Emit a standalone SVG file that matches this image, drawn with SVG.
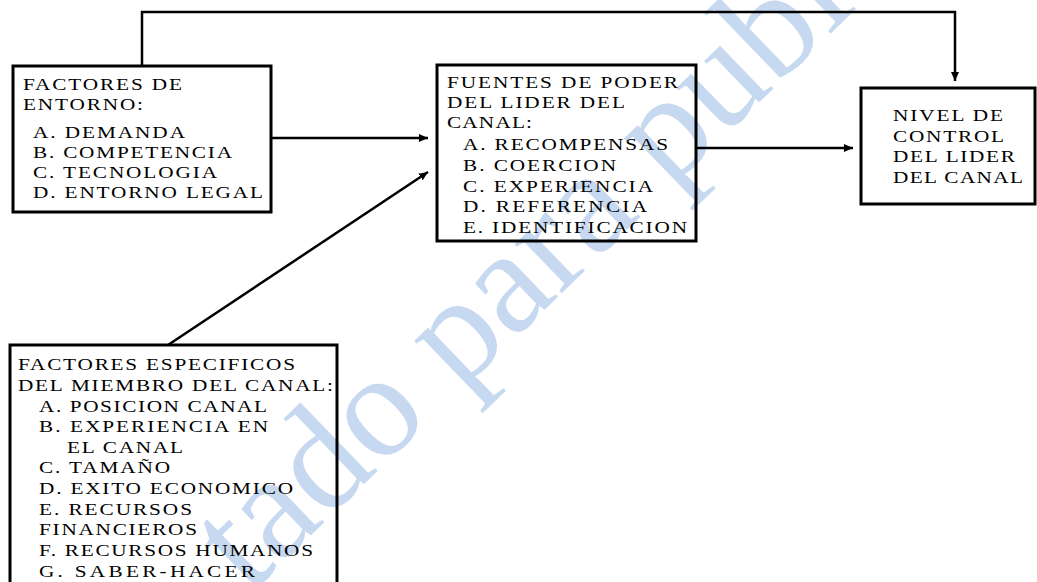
<svg xmlns="http://www.w3.org/2000/svg" width="1037" height="582" viewBox="0 0 1037 582">
<defs>
<marker id="arr" markerUnits="userSpaceOnUse" markerWidth="9" markerHeight="8" refX="9" refY="4" orient="auto">
<path d="M0,0 L9,4 L0,8 z" fill="#000"/>
</marker>
<style>
.box{fill:none;stroke:#000;stroke-width:3}
.con{fill:none;stroke:#000;stroke-width:2.5}
.t{font-family:"Liberation Serif","Times New Roman",serif;font-size:17px;fill:#000}
.wm{font-family:"Liberation Serif","Times New Roman",serif;font-size:148px;fill:#c6d9f1}
</style>
</defs>
<rect x="0" y="0" width="1037" height="582" fill="#fff"/>
<g id="watermark">
<text class="wm" transform="translate(249,595) rotate(-44)">tado para publ</text>
</g>
<g id="connectors">
<polyline class="con" points="142,66 142,12 955,12 955,81" marker-end="url(#arr)"/>
<line class="con" x1="271" y1="138" x2="428" y2="138" marker-end="url(#arr)"/>
<line class="con" x1="168" y1="345" x2="428" y2="172" marker-end="url(#arr)"/>
<line class="con" x1="696" y1="148" x2="853" y2="148" marker-end="url(#arr)"/>
</g>
<g id="node-entorno">
<rect class="box" x="13" y="66" width="258" height="146"/>
<text class="t" transform="translate(23,90) scale(1.25,1)" textLength="127.2" lengthAdjust="spacing">FACTORES DE</text>
<text class="t" transform="translate(23,110) scale(1.25,1)" textLength="96" lengthAdjust="spacing">ENTORNO:</text>
<text class="t" transform="translate(33,138) scale(1.25,1)" textLength="121.6" lengthAdjust="spacing">A. DEMANDA</text>
<text class="t" transform="translate(33,158) scale(1.25,1)" textLength="159.2" lengthAdjust="spacing">B. COMPETENCIA</text>
<text class="t" transform="translate(33,178) scale(1.25,1)" textLength="147.2" lengthAdjust="spacing">C. TECNOLOGIA</text>
<text class="t" transform="translate(33,198) scale(1.25,1)" textLength="184" lengthAdjust="spacing">D. ENTORNO LEGAL</text>
</g>
<g id="node-fuentes">
<rect class="box" x="437" y="65" width="259" height="176"/>
<text class="t" transform="translate(447,88) scale(1.25,1)" textLength="184.8" lengthAdjust="spacing">FUENTES DE PODER</text>
<text class="t" transform="translate(447,108) scale(1.25,1)" textLength="142.4" lengthAdjust="spacing">DEL LIDER DEL</text>
<text class="t" transform="translate(447,128) scale(1.25,1)" textLength="68" lengthAdjust="spacing">CANAL:</text>
<text class="t" transform="translate(463,150) scale(1.25,1)" textLength="164" lengthAdjust="spacing">A. RECOMPENSAS</text>
<text class="t" transform="translate(463,171) scale(1.25,1)" textLength="122.4" lengthAdjust="spacing">B. COERCION</text>
<text class="t" transform="translate(463,192) scale(1.25,1)" textLength="152" lengthAdjust="spacing">C. EXPERIENCIA</text>
<text class="t" transform="translate(463,212) scale(1.25,1)" textLength="147.2" lengthAdjust="spacing">D. REFERENCIA</text>
<text class="t" transform="translate(463,233) scale(1.25,1)" textLength="179.2" lengthAdjust="spacing">E. IDENTIFICACION</text>
</g>
<g id="node-nivel">
<rect class="box" x="861" y="88" width="174" height="116"/>
<text class="t" transform="translate(893,121) scale(1.25,1)" textLength="88" lengthAdjust="spacing">NIVEL DE</text>
<text class="t" transform="translate(893,142) scale(1.25,1)" textLength="88.8" lengthAdjust="spacing">CONTROL</text>
<text class="t" transform="translate(893,162) scale(1.25,1)" textLength="97.6" lengthAdjust="spacing">DEL LIDER</text>
<text class="t" transform="translate(893,183) scale(1.25,1)" textLength="104" lengthAdjust="spacing">DEL CANAL</text>
</g>
<g id="node-especificos">
<rect class="box" x="10" y="345" width="327" height="260"/>
<text class="t" transform="translate(18,370) scale(1.25,1)" textLength="221.6" lengthAdjust="spacing">FACTORES ESPECIFICOS</text>
<text class="t" transform="translate(18,391) scale(1.25,1)" textLength="252" lengthAdjust="spacing">DEL MIEMBRO DEL CANAL:</text>
<text class="t" transform="translate(39,412) scale(1.25,1)" textLength="182.4" lengthAdjust="spacing">A. POSICION CANAL</text>
<text class="t" transform="translate(39,432) scale(1.25,1)" textLength="183.2" lengthAdjust="spacing">B. EXPERIENCIA EN</text>
<text class="t" transform="translate(67,453) scale(1.25,1)" textLength="92.8" lengthAdjust="spacing">EL CANAL</text>
<text class="t" transform="translate(39,473) scale(1.25,1)" textLength="104.8" lengthAdjust="spacing">C. TAMAÑO</text>
<text class="t" transform="translate(39,494) scale(1.25,1)" textLength="203.2" lengthAdjust="spacing">D. EXITO ECONOMICO</text>
<text class="t" transform="translate(39,515) scale(1.25,1)" textLength="122.4" lengthAdjust="spacing">E. RECURSOS</text>
<text class="t" transform="translate(39,535) scale(1.25,1)" textLength="126.4" lengthAdjust="spacing">FINANCIEROS</text>
<text class="t" transform="translate(39,556) scale(1.25,1)" textLength="219.2" lengthAdjust="spacing">F. RECURSOS HUMANOS</text>
<text class="t" transform="translate(39,577) scale(1.25,1)" textLength="172.8" lengthAdjust="spacing">G. SABER-HACER</text>
</g>
</svg>
